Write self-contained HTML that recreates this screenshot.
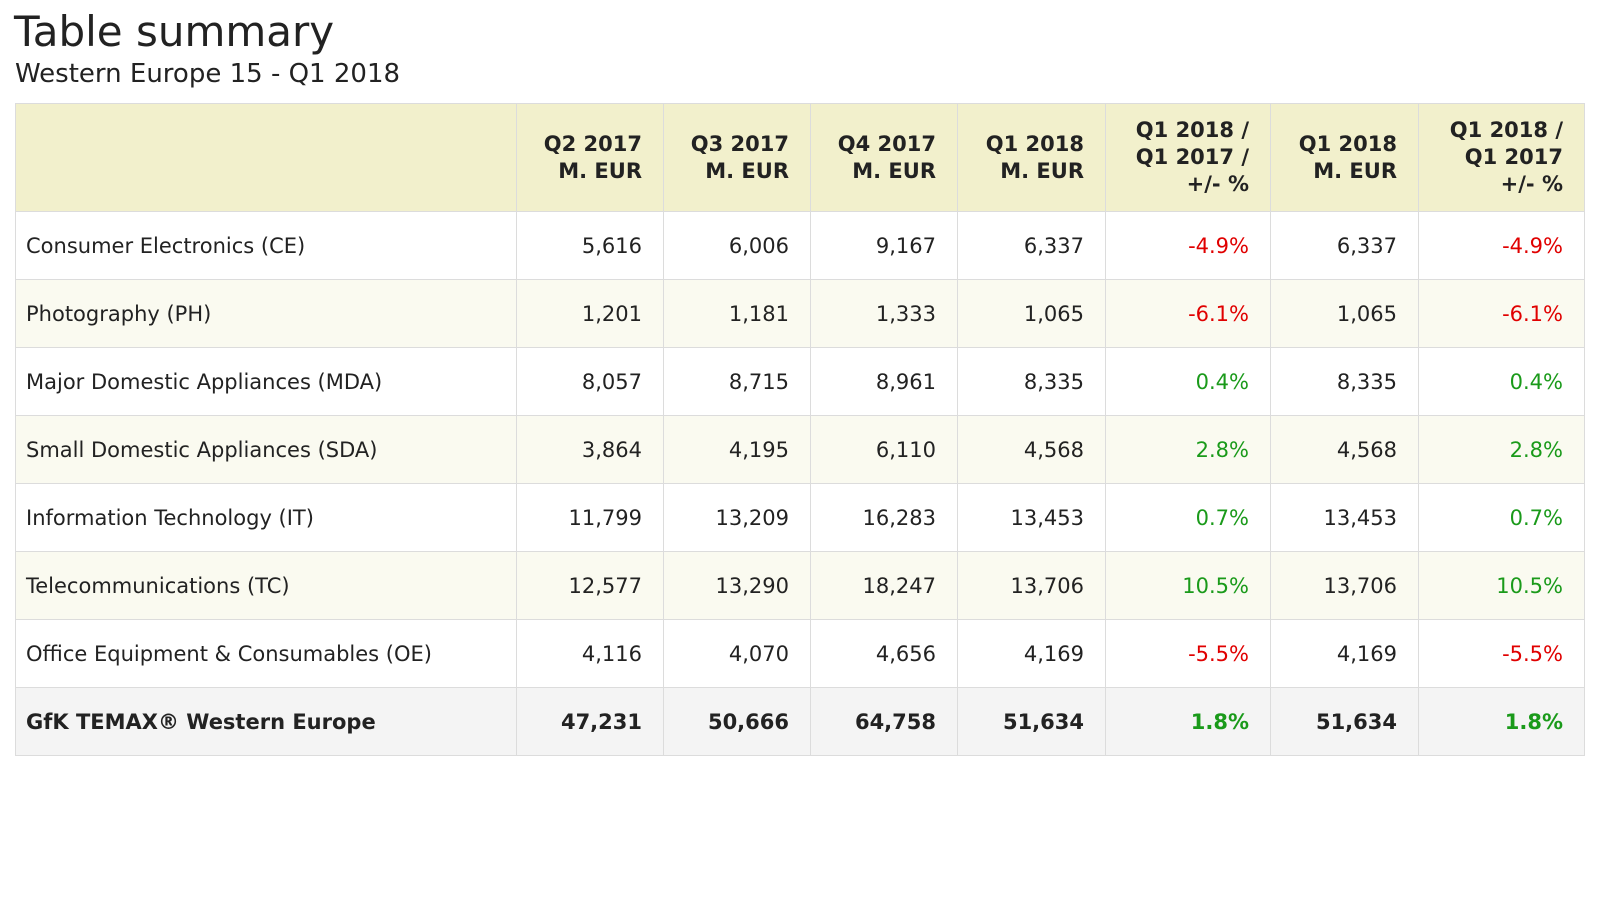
<!DOCTYPE html>
<html><head><meta charset="utf-8"><style>
body{margin:0;background:#fff;font-family:"DejaVu Sans","Liberation Sans",sans-serif;color:#222;width:1600px;height:900px;overflow:hidden}
h1{position:absolute;left:14px;top:7px;margin:0;font-weight:normal;font-size:42px;line-height:50px}
h2{position:absolute;left:15px;top:58px;margin:0;font-weight:normal;font-size:26px;line-height:32px}
table{position:absolute;left:15px;top:103px;border-collapse:collapse;font-size:21px;table-layout:fixed}
td,th{border:1px solid #dcdcdc;padding:0 21px 0 10px;text-align:right;height:67px;white-space:nowrap}
td:first-child{text-align:left}
th{background:#f2f0cc;height:107px;line-height:27px;font-weight:bold}
tr:nth-child(odd) td{background:#fafaf0}
tr.tot td{background:#f4f4f4;font-weight:bold}
.r{color:#e00000}.g{color:#1a9a1a}
</style></head><body>
<h1>Table summary</h1>
<h2>Western Europe 15 - Q1 2018</h2>
<table>
<colgroup><col style="width:501px"><col style="width:147px"><col style="width:147px"><col style="width:147px"><col style="width:148px"><col style="width:165px"><col style="width:148px"><col style="width:166px"></colgroup>
<tr><th></th><th>Q2 2017<br>M. EUR</th><th>Q3 2017<br>M. EUR</th><th>Q4 2017<br>M. EUR</th><th>Q1 2018<br>M. EUR</th><th>Q1 2018 /<br>Q1 2017 /<br>+/- %</th><th>Q1 2018<br>M. EUR</th><th>Q1 2018 /<br>Q1 2017<br>+/- %</th></tr>
<tr><td>Consumer Electronics (CE)</td><td>5,616</td><td>6,006</td><td>9,167</td><td>6,337</td><td class="r">-4.9%</td><td>6,337</td><td class="r">-4.9%</td></tr>
<tr><td>Photography (PH)</td><td>1,201</td><td>1,181</td><td>1,333</td><td>1,065</td><td class="r">-6.1%</td><td>1,065</td><td class="r">-6.1%</td></tr>
<tr><td>Major Domestic Appliances (MDA)</td><td>8,057</td><td>8,715</td><td>8,961</td><td>8,335</td><td class="g">0.4%</td><td>8,335</td><td class="g">0.4%</td></tr>
<tr><td>Small Domestic Appliances (SDA)</td><td>3,864</td><td>4,195</td><td>6,110</td><td>4,568</td><td class="g">2.8%</td><td>4,568</td><td class="g">2.8%</td></tr>
<tr><td>Information Technology (IT)</td><td>11,799</td><td>13,209</td><td>16,283</td><td>13,453</td><td class="g">0.7%</td><td>13,453</td><td class="g">0.7%</td></tr>
<tr><td>Telecommunications (TC)</td><td>12,577</td><td>13,290</td><td>18,247</td><td>13,706</td><td class="g">10.5%</td><td>13,706</td><td class="g">10.5%</td></tr>
<tr><td>Office Equipment &amp; Consumables (OE)</td><td>4,116</td><td>4,070</td><td>4,656</td><td>4,169</td><td class="r">-5.5%</td><td>4,169</td><td class="r">-5.5%</td></tr>
<tr class="tot"><td>GfK TEMAX® Western Europe</td><td>47,231</td><td>50,666</td><td>64,758</td><td>51,634</td><td class="g">1.8%</td><td>51,634</td><td class="g">1.8%</td></tr>
</table>
</body></html>
